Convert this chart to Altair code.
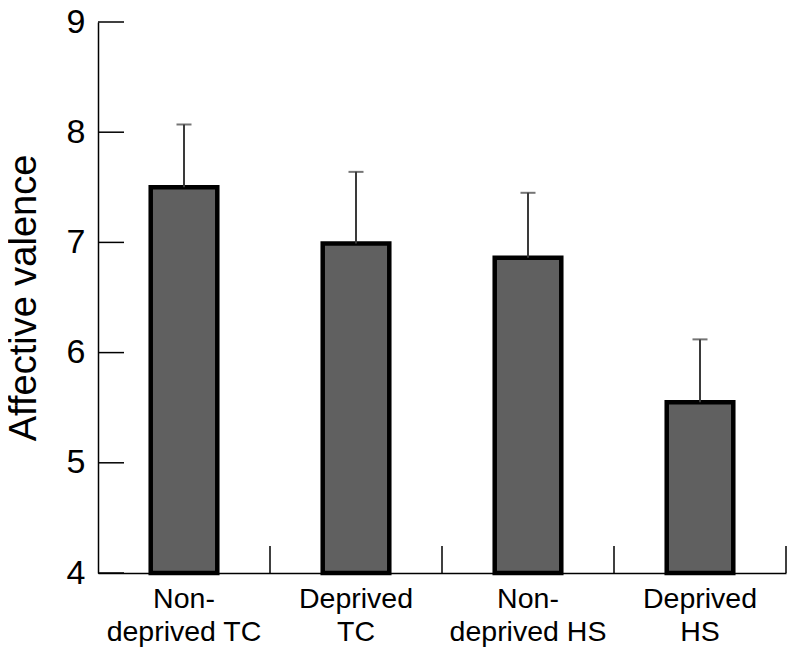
import altair as alt
import pandas as pd

categories = ["Non-\ndeprived TC", "Deprived\nTC", "Non-\ndeprived HS", "Deprived\nHS"]
means = [7.50, 6.99, 6.86, 5.55]
upper = [8.07, 7.64, 7.45, 6.12]
y_ticks = [4, 5, 6, 7, 8, 9]

W, H = 688, 551
FONT = "Liberation Sans"

df = pd.DataFrame({"cat": categories, "mean": means, "upper": upper, "base": [4] * len(categories)})
tick_df = pd.DataFrame({"t": y_ticks})

xscale = alt.Scale(domain=categories, paddingInner=0, paddingOuter=0)
yscale = alt.Scale(domain=[4, 9], zero=False, nice=False)

xenc = alt.X("cat:N", scale=xscale, sort=categories, title=None,
             axis=alt.Axis(ticks=False, labelAngle=0, labelFont=FONT, labelFontSize=28.5,
                           labelColor="black", labelPadding=11, labelLineHeight=33,
                           labelExpr="split(datum.label, '\\n')", domainColor="black",
                           domainWidth=1.5))

bars = alt.Chart(df).mark_bar(color="#606060", stroke="black", strokeWidth=4.5,
                              width=alt.RelativeBandSize(0.387)).encode(
    x=xenc,
    y=alt.Y("mean:Q", scale=yscale, title="Affective valence",
            axis=alt.Axis(values=y_ticks, format="d", ticks=False, grid=False, labelFont=FONT,
                          labelFontSize=34, labelColor="black", labelPadding=13,
                          titleFont=FONT, titleFontSize=38, titleFontWeight="normal",
                          titleColor="black", titlePadding=23, domainColor="black",
                          domainWidth=1.5)),
    y2=alt.Y2("base:Q"),
)

err = alt.Chart(df).mark_rule(color="#3a3a3a", strokeWidth=2).encode(
    x=alt.X("cat:N", scale=xscale, sort=categories),
    y=alt.Y("mean:Q", scale=yscale),
    y2="upper:Q",
)

caps = alt.Chart(df).mark_tick(color="#3a3a3a", thickness=2, size=15, orient="horizontal").encode(
    x=alt.X("cat:N", scale=xscale, sort=categories),
    y=alt.Y("upper:Q", scale=yscale),
)

yticks = alt.Chart(tick_df).mark_rule(color="black", strokeWidth=1.5).encode(
    y=alt.Y("t:Q", scale=yscale),
    x=alt.value(0),
    x2=alt.value(26),
)

xticks = alt.Chart(df).mark_rule(color="black", strokeWidth=1.5).encode(
    x=alt.X("cat:N", scale=xscale, sort=categories, bandPosition=1),
    y=alt.value(H - 27),
    y2=alt.value(H),
)

chart = alt.layer(bars, err, caps, yticks, xticks).properties(
    width=W, height=H,
    autosize=alt.AutoSizeParams(type="none"),
    padding={"left": 90, "top": 14, "right": 1, "bottom": 75},
).configure_view(stroke=None).configure_axis(grid=False)

chart.save("out.html", embed_options={"renderer": "svg", "actions": False})
